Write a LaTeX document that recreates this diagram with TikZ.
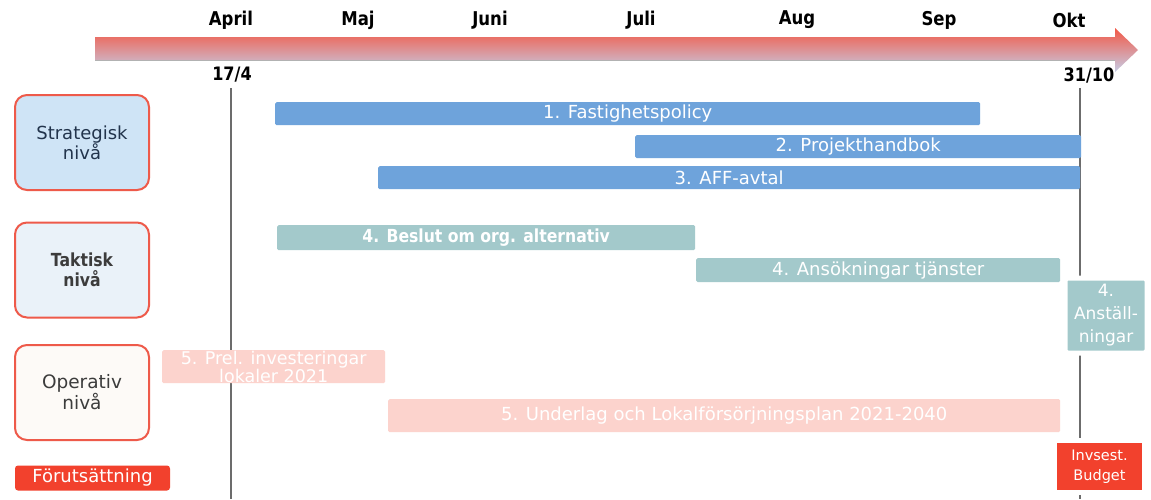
\documentclass[tikz,border=0pt]{standalone}
\usepackage{fontspec}
\setmainfont{DejaVu Sans}
\newfontfamily\narrowsans{DejaVu Sans}[FakeStretch=0.87]
\definecolor{barblue}{HTML}{6EA3DB}
\definecolor{barteal}{HTML}{A3C9CB}
\definecolor{barpink}{HTML}{FCD3CD}
\definecolor{levelred}{HTML}{EE5A4A}
\definecolor{stratfill}{HTML}{CFE4F6}
\definecolor{taktfill}{HTML}{EAF2F9}
\definecolor{operfill}{HTML}{FDFAF7}
\definecolor{condred}{HTML}{F2412D}
\definecolor{arrowtop}{HTML}{F25846}
\definecolor{arrowmid}{HTML}{F68A7C}
\definecolor{arrowbot}{HTML}{C6CDE6}
\definecolor{darknavy}{HTML}{22344C}
\definecolor{darkgray}{HTML}{3C3C3C}
\begin{document}
\begin{tikzpicture}[x=1pt,y=-1pt,
  month/.style={font=\narrowsans\fontsize{19}{21}\selectfont\bfseries, text=black, inner sep=0pt},
  datelbl/.style={font=\narrowsans\fontsize{18.5}{20}\selectfont\bfseries, text=black, inner sep=0pt},
  vline/.style={draw=gray!85!black, line width=1.5pt},
  bar/.style={anchor=north west, inner sep=0pt, rounded corners=1.5pt, text=white,
    font=\fontsize{18}{20}\selectfont, align=center},
  level/.style={draw=levelred, line width=2pt, rounded corners=12pt, inner sep=0pt,
    align=center, font=\fontsize{18}{20}\selectfont, minimum width=134pt, minimum height=95pt},
  redbox/.style={fill=condred, text=white, inner sep=0pt, align=center}]
\useasboundingbox[fill=white] (0,0) rectangle (1151,499);

% time arrow
\shade[top color=arrowtop, middle color=arrowmid, bottom color=arrowbot]
  (95,37) -- (1115,37) -- (1115,28) -- (1138,50) -- (1115,72) -- (1115,60) -- (95,60) -- cycle;
\draw[gray!60, line width=1pt] (95,60) -- (1115,60);

% months
\node[month] (apr) at (231,20) {April};
\node[month] (maj) at (358,20) {Maj};
\node[month] (jun) at (490,20) {Juni};
\node[month] (jul) at (641,20) {Juli};
\node[month] (aug) at (797,20) {Aug};
\node[month] (sep) at (939,20) {Sep};
\node[month] (okt) at (1069,20) {Okt};

% start and end dates
\node[datelbl] (start) at (232,75) {17/4};
\node[datelbl] (end) at (1089,75) {31/10};

% vertical date lines
\coordinate (l1top) at (231,88);
\coordinate (l1bot) at (231,499);
\coordinate (l2top) at (1080,88);
\coordinate (l2bot) at (1080,499);
\draw[vline] (l1top) -- (l1bot);
\draw[vline] (l2top) -- (l2bot);

% levels
\node[level, fill=stratfill, text=darknavy] (strat) at (82,142.5) {Strategisk\\nivå};
\node[level, fill=taktfill, text=darkgray, font=\narrowsans\fontsize{18}{20}\selectfont\bfseries] (takt) at (82,270) {Taktisk\\nivå};
\node[level, fill=operfill, text=darkgray, font=\fontsize{18.5}{20}\selectfont] (oper) at (82,392.5) {Operativ\\nivå};
\node[redbox, rounded corners=3pt, minimum width=155pt, minimum height=25pt,
  font=\fontsize{18}{20}\selectfont] (cond) at (92.5,478) {Förutsättning};

% strategic activities
\node[bar, fill=barblue, minimum width=705pt, minimum height=23pt] (a1) at (275,102) {1. Fastighetspolicy};
\node[bar, fill=barblue, minimum width=446pt, minimum height=23pt] (a2) at (635,135) {2. Projekthandbok};
\node[bar, fill=barblue, minimum width=702pt, minimum height=23pt] (a3) at (378,166) {3. AFF-avtal};

% tactical activities
\node[bar, fill=barteal, minimum width=418pt, minimum height=25pt, font=\narrowsans\fontsize{18}{20}\selectfont\bfseries] (a4) at (277,225) {4. Beslut om org. alternativ};
\node[bar, fill=barteal, minimum width=364pt, minimum height=24pt] (a5) at (696,258) {4. Ansökningar tjänster};
\node[bar, fill=barteal, draw=white, line width=5pt, rounded corners=3pt, minimum width=82pt, minimum height=75pt,
  font=\fontsize{17}{23}\selectfont] (a6) at (1062.5,275.5) {4.\\Anställ-\\ningar};

% operative activities
\node[bar, fill=barpink, minimum width=223pt, minimum height=33pt, font=\fontsize{17.5}{18}\selectfont] (a7) at (162,350) {5. Prel. investeringar\\lokaler 2021};
\node[bar, fill=barpink, minimum width=672pt, minimum height=33pt] (a8) at (388,399) {5. Underlag och Lokalförsörjningsplan 2021-2040};

% prerequisite at the end date
\node[redbox, draw=white, line width=5pt, minimum width=90pt, minimum height=52pt,
  font=\fontsize{14.5}{20}\selectfont] (budget) at (1099.5,466.5) {Invsest.\\Budget};
\end{tikzpicture}
\end{document}
